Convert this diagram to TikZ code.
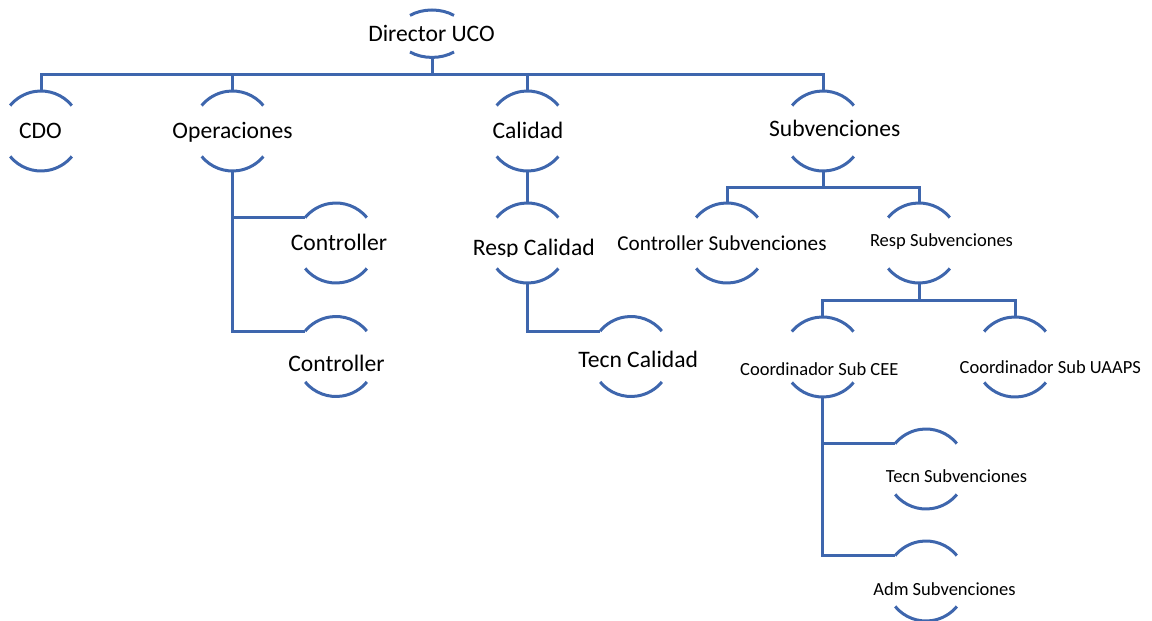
\documentclass[tikz,border=0pt]{standalone}
\usepackage{fontspec}
\setmainfont{Carlito}
\usetikzlibrary{calc,shapes.geometric}
\definecolor{orgblue}{RGB}{62,102,173}
\tikzset{
  orgline/.style={draw=orgblue, line width=1.5pt},
  unitshape/.style={ellipse, inner sep=0pt, outer sep=0pt},
  bigtxt/.style={font=\fontsize{11.8}{14}\selectfont, anchor=base, inner sep=0pt, text=black},
  midtxt/.style={font=\fontsize{10.6}{13}\selectfont, anchor=base, inner sep=0pt, text=black},
  smalltxt/.style={font=\fontsize{9.25}{11}\selectfont, anchor=base, inner sep=0pt, text=black}
}
% name, x, y, rx, ry, theta
\newcommand{\OrgUnit}[6]{%
  \node[unitshape, minimum width=#4pt, minimum height=#5pt] (#1) at (#2,-#3) {};
  \draw[orgline] ([shift={(#6:#4 and #5)}]#1.center) arc[start angle=#6, end angle=180-#6, x radius=#4, y radius=#5];
  \draw[orgline] ([shift={(180+#6:#4 and #5)}]#1.center) arc[start angle=180+#6, end angle=360-#6, x radius=#4, y radius=#5];
}
\begin{document}
\begin{tikzpicture}[x=0.5pt, y=0.5pt]
\path[use as bounding box] (0,0) rectangle (1152,-621);

% units
\OrgUnit{dir}{432}{33.7}{34.6}{23.7}{50.5}
\OrgUnit{cdo}{41}{131}{40}{40}{39.5}
\OrgUnit{ops}{232.5}{131}{40}{40}{39.5}
\OrgUnit{cal}{527.5}{131}{40}{40}{39.5}
\OrgUnit{subv}{823}{131}{40}{40}{39.5}
\OrgUnit{ctrlA}{336}{243}{40}{40}{39.5}
\OrgUnit{ctrlB}{336}{356.5}{40}{40}{39.5}
\OrgUnit{respcal}{527.5}{243}{40}{40}{39.5}
\OrgUnit{tecncal}{631}{356.5}{40}{40}{39.5}
\OrgUnit{ctrlsub}{727}{243}{40}{40}{39.5}
\OrgUnit{respsub}{919}{243}{40}{40}{39.5}
\OrgUnit{coordcee}{822.7}{357}{40}{40}{39.5}
\OrgUnit{coorduaaps}{1015}{357}{40}{40}{39.5}
\OrgUnit{tecnsub}{926}{469}{40}{40}{39.5}
\OrgUnit{admsub}{926}{581}{40}{40}{39.5}

% texts
\node[bigtxt] (dir-t) at (431.5,-41) {Director UCO};
\node[bigtxt] (cdo-t) at (40.5,-138) {CDO};
\node[bigtxt] (ops-t) at (232.5,-138) {Operaciones};
\node[bigtxt] (cal-t) at (528,-138.3) {Calidad};
\node[bigtxt] (subv-t) at (834.7,-136.7) {Subvenciones};
\node[bigtxt] (ctrlA-t) at (339,-250.7) {Controller};
\node[bigtxt] (ctrlB-t) at (336.5,-371.7) {Controller};
\begin{scope}
  \clip (440,-220) rectangle (640,-256);
  \node[bigtxt] (respcal-t) at (533.8,-255) {Resp Calidad};
\end{scope}
\node[bigtxt] (tecncal-t) at (638.2,-367) {Tecn Calidad};
\node[midtxt] (ctrlsub-t) at (722,-250.7) {Controller Subvenciones};
\node[smalltxt] (respsub-t) at (941.5,-246) {Resp Subvenciones};
\node[smalltxt] (coordcee-t) at (819.3,-375.7) {Coordinador Sub CEE};
\node[smalltxt] (coorduaaps-t) at (1050.3,-373.3) {Coordinador Sub UAAPS};
\node[smalltxt] (tecnsub-t) at (956.5,-482) {Tecn Subvenciones};
\node[smalltxt] (admsub-t) at (944.5,-595) {Adm Subvenciones};

% connectors
\coordinate (bus0) at (432,-74);
\draw[orgline] (dir.south) -- (bus0);
\draw[orgline] (cdo.north) |- (bus0) -| (subv.north);
\draw[orgline] (ops.north) -- (ops.north |- bus0);
\draw[orgline] (cal.north) -- (cal.north |- bus0);

\coordinate (ctrlA-in) at ([shift={(140.5:40 and 40)}]ctrlA.center);
\coordinate (ctrlB-in) at ([shift={(140.5:40 and 40)}]ctrlB.center);
\draw[orgline] (ops.south) |- (ctrlB-in);
\draw[orgline] (ops.south |- ctrlA-in) -- (ctrlA-in);

\draw[orgline] (cal.south) -- (respcal.north);
\coordinate (tecncal-in) at ([shift={(140.5:40 and 40)}]tecncal.center);
\draw[orgline] (respcal.south) |- (tecncal-in);

\coordinate (bus1) at (823,-187.5);
\draw[orgline] (subv.south) -- (bus1);
\draw[orgline] (ctrlsub.north) |- (bus1) -| (respsub.north);

\coordinate (bus2) at (919,-300.7);
\draw[orgline] (respsub.south) -- (bus2);
\draw[orgline] (coordcee.north) |- (bus2) -| (coorduaaps.north);

\coordinate (tecnsub-in) at ([shift={(140.5:40 and 40)}]tecnsub.center);
\coordinate (admsub-in) at ([shift={(140.5:40 and 40)}]admsub.center);
\draw[orgline] (coordcee.south) |- (admsub-in);
\draw[orgline] (coordcee.south |- tecnsub-in) -- (tecnsub-in);
\end{tikzpicture}
\end{document}
